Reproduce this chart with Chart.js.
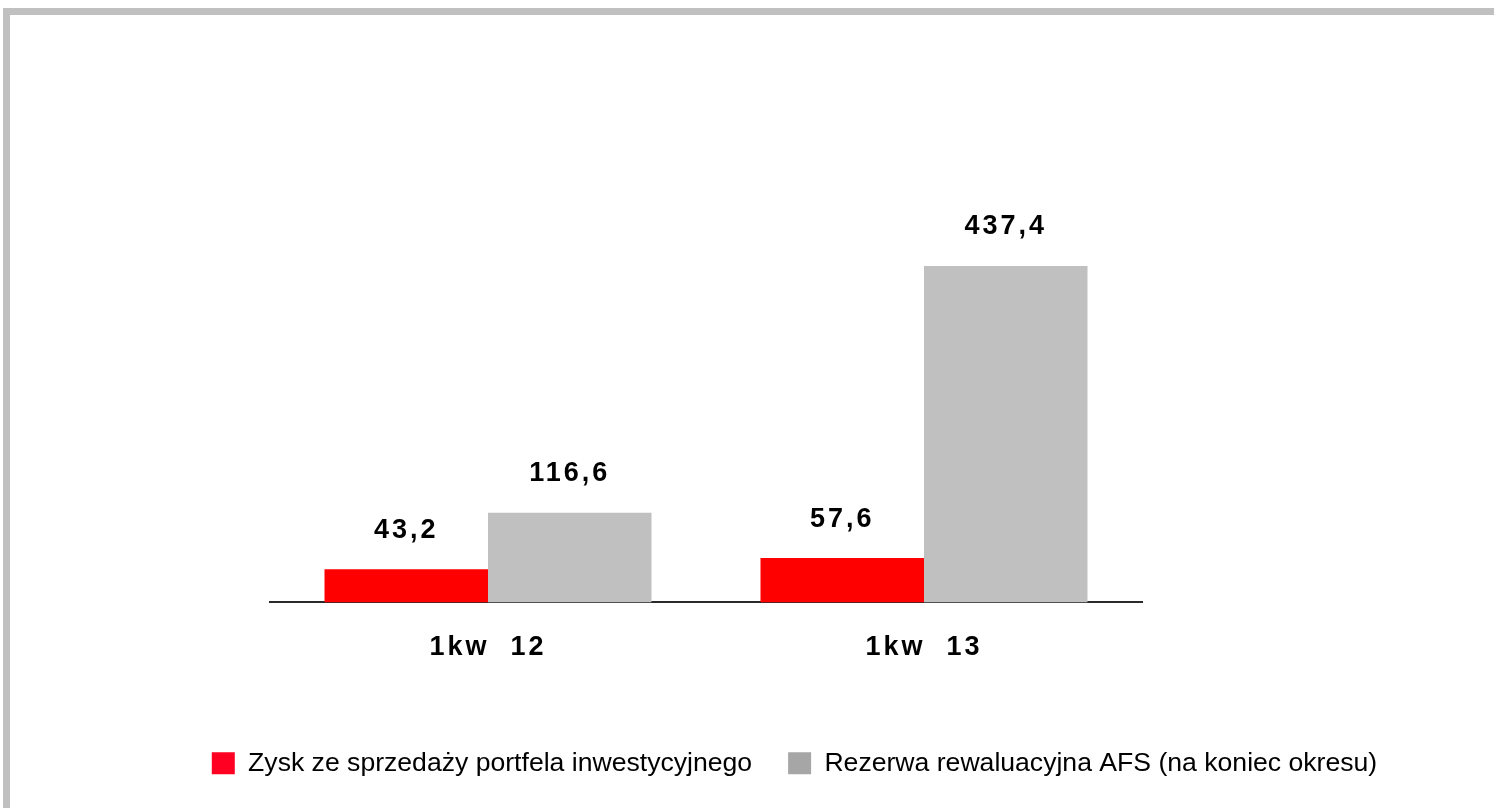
<!DOCTYPE html>
<html>
<head>
<meta charset="utf-8">
<script src="https://cdn.jsdelivr.net/npm/chart.js@4"></script>
<style>
    html, body { margin: 0; padding: 0; background: #fff; overflow: hidden; }
    #frame {
        position: absolute; left: 3px; top: 8px;
        width: 1600px; height: 900px;
        border: 7px solid #c0c0c0;
    }
    #chart { position: absolute; left: 0; top: 0; }
</style>
</head>
<body>
<div id="frame"></div>
<canvas id="chart" width="1494" height="808"></canvas>
<script>
// dane wykresu
const categories = ['1kw  12', '1kw  13'];
const seriesNames = ['Zysk ze sprzedaży portfela inwestycyjnego', 'Rezerwa rewaluacyjna AFS (na koniec okresu)'];
const zyskValues = [43.2, 57.6];
const rezerwaValues = [116.6, 437.4];

const FONT = '"Liberation Sans", Arial, sans-serif';

// etykiety wartosci nad slupkami
const valueLabels = {
    id: 'valueLabels',
    afterDatasetsDraw(chart) {
        const ctx = chart.ctx;
        ctx.save();
        ctx.font = 'bold 27px ' + FONT;
        ctx.fillStyle = '#000';
        ctx.textAlign = 'center';
        ctx.textBaseline = 'middle';
        ctx.letterSpacing = '3px';
        chart.data.datasets.forEach((ds, i) => {
            chart.getDatasetMeta(i).data.forEach((bar, j) => {
                ctx.fillText(ds.data[j].toFixed(1).replace('.', ','), bar.x, bar.y - 39);
            });
        });
        ctx.restore();
        // opisy osi X rysowane po slupkach (ticks.z = 1) - z rozstrzelonymi literami
        ctx.letterSpacing = '3px';
    },
    afterDraw(chart) {
        chart.ctx.letterSpacing = '0px';
    }
};

// legenda przesunieta w prawo i w gore jak w oryginale
const legendShift = {
    id: 'legendShift',
    afterLayout(chart) {
        const lg = chart.legend;
        lg.left = 95;
        lg.right = 1494;
        lg.width = lg.right - lg.left;
        lg.top = 714;
        lg.bottom = lg.top + lg.height;
    }
};

const legendColors = ['#ff0022', '#a6a6a6'];

// puste osie boczne tylko rezerwuja miejsce na marginesy
const spacerAxis = (pos, w) => ({
    type: 'linear',
    position: pos,
    display: true,
    grid: { display: false },
    border: { display: false },
    ticks: { display: false },
    afterFit(scale) { scale.width = w; }
});

new Chart(document.getElementById('chart'), {
    type: 'bar',
    data: {
        labels: categories,
        datasets: [{
            label: seriesNames[0],
            data: zyskValues,
            backgroundColor: '#ff0000'
        }, {
            label: seriesNames[1],
            data: rezerwaValues,
            backgroundColor: '#c0c0c0'
        }]
    },
    options: {
        responsive: false,
        animation: false,
        events: [],
        categoryPercentage: 0.75,
        barPercentage: 1.0,
        layout: {
            padding: { left: 0, right: 0, top: 41, bottom: 18 }
        },
        plugins: {
            tooltip: { enabled: false },
            legend: {
                position: 'bottom',
                labels: {
                    boxWidth: 23,
                    boxHeight: 22,
                    padding: 36,
                    color: '#000',
                    font: { family: FONT, size: 26.6 },
                    generateLabels(chart) {
                        const items = Chart.defaults.plugins.legend.labels.generateLabels(chart);
                        items.forEach((it, i) => {
                            it.fillStyle = legendColors[i];
                            it.strokeStyle = legendColors[i];
                            it.lineWidth = 0;
                        });
                        return items;
                    }
                }
            }
        },
        scales: {
            x: {
                grid: { display: false },
                border: { display: true, color: '#2a2a2a', width: 2 },
                ticks: {
                    z: 1,
                    padding: 21,
                    color: '#000',
                    font: { family: FONT, size: 27, weight: 'bold' }
                },
                afterFit(scale) { scale.height = 115; }
            },
            y: Object.assign(spacerAxis('left', 270), { min: 0, max: 730 }),
            yRight: spacerAxis('right', 352)
        }
    },
    plugins: [valueLabels, legendShift]
});
</script>
</body>
</html>
